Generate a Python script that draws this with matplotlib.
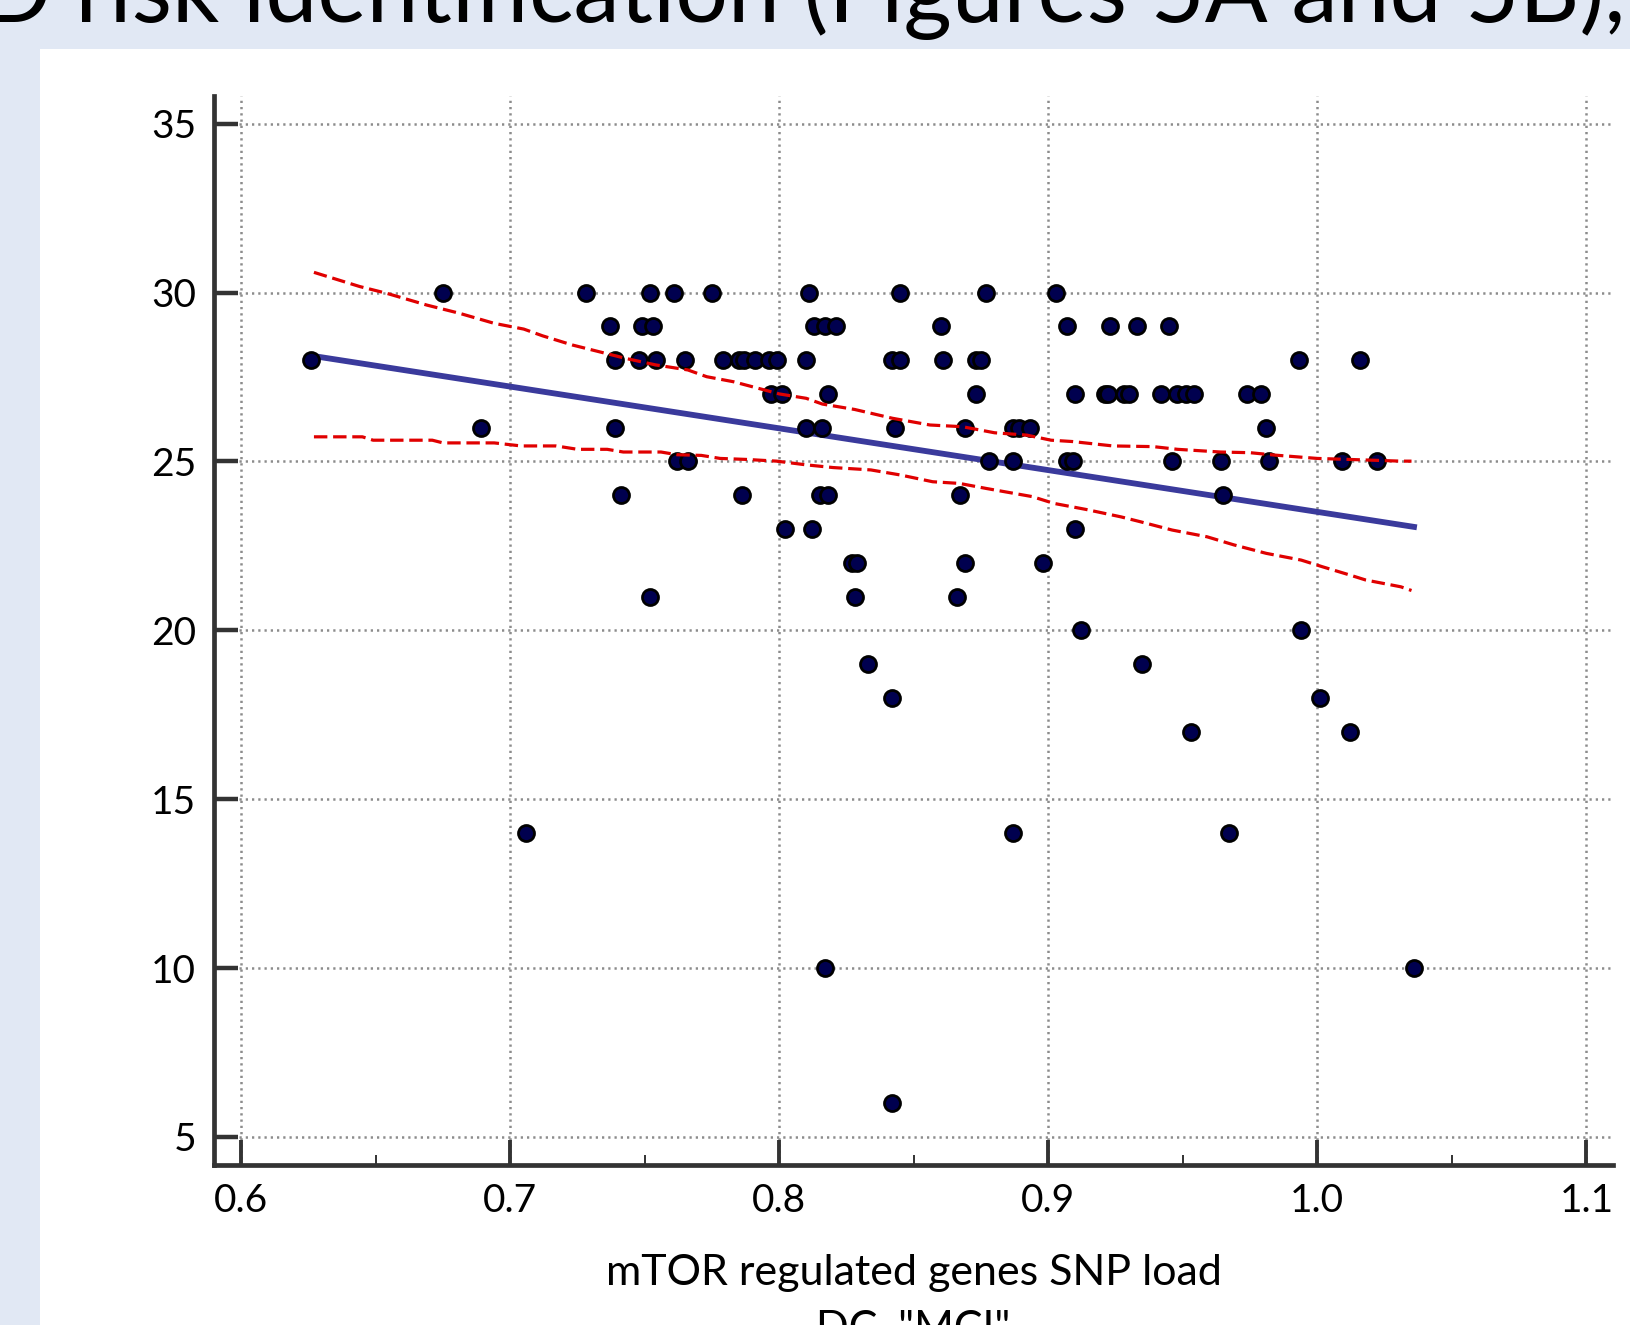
import matplotlib
matplotlib.use('Agg')
import matplotlib.pyplot as plt
from matplotlib.patches import Rectangle
import numpy as np

plt.rcParams['font.family'] = ['Lato', 'DejaVu Sans']

# scatter data, grouped by score row
rows = {
    30: [0.675, 0.728, 0.752, 0.761, 0.775, 0.811, 0.845, 0.877, 0.903],
    29: [0.737, 0.749, 0.753, 0.813, 0.817, 0.821, 0.860, 0.907, 0.923, 0.933, 0.945],
    28: [0.626, 0.739, 0.748, 0.754, 0.765, 0.779, 0.785, 0.787, 0.791, 0.796, 0.799,
         0.810, 0.842, 0.845, 0.861, 0.873, 0.875, 0.993, 1.016],
    27: [0.797, 0.801, 0.818, 0.873, 0.910, 0.921, 0.922, 0.928, 0.930, 0.942, 0.948,
         0.951, 0.954, 0.974, 0.979],
    26: [0.689, 0.739, 0.810, 0.816, 0.843, 0.869, 0.887, 0.889, 0.893, 0.981],
    25: [0.762, 0.766, 0.878, 0.887, 0.907, 0.909, 0.946, 0.964, 0.982, 1.009, 1.022],
    24: [0.741, 0.786, 0.815, 0.818, 0.867, 0.965],
    23: [0.802, 0.812, 0.910],
    22: [0.827, 0.829, 0.869, 0.898],
    21: [0.752, 0.828, 0.866],
    20: [0.912, 0.994],
    19: [0.833, 0.935],
    18: [0.842, 1.001],
    17: [0.953, 1.012],
    14: [0.706, 0.887, 0.967],
    10: [0.817, 1.036],
    6: [0.842],
}
snp_load = [x for s, xs in rows.items() for x in xs]
score = [s for s, xs in rows.items() for x in xs]

# regression line end points
fit_x = [0.627, 1.037]
fit_y = [28.12, 23.05]

# confidence band (upper / lower)
upper_x = [0.627, 0.644, 0.654, 0.669, 0.681, 0.694, 0.705, 0.712, 0.723, 0.733, 0.743,
           0.754, 0.766, 0.773, 0.783, 0.792, 0.800, 0.810, 0.816, 0.828, 0.842, 0.856,
           0.868, 0.880, 0.892, 0.901, 0.909, 0.924, 0.939, 0.948, 0.964, 0.975, 0.984,
           1.000, 1.012, 1.031, 1.035]
upper_y = [30.60, 30.18, 29.98, 29.63, 29.39, 29.09, 28.92, 28.72, 28.45, 28.25, 28.05,
           27.86, 27.71, 27.51, 27.36, 27.17, 27.00, 26.87, 26.70, 26.54, 26.28, 26.08,
           26.03, 25.85, 25.78, 25.63, 25.59, 25.46, 25.44, 25.36, 25.28, 25.26, 25.19,
           25.09, 25.06, 25.01, 25.01]
lower_x = [0.627, 0.645, 0.649, 0.671, 0.675, 0.694, 0.704, 0.717, 0.725, 0.736, 0.742,
           0.756, 0.762, 0.771, 0.778, 0.788, 0.799, 0.810, 0.820, 0.834, 0.845, 0.857,
           0.867, 0.877, 0.894, 0.902, 0.914, 0.927, 0.934, 0.946, 0.959, 0.969, 0.981,
           0.994, 1.002, 1.012, 1.018, 1.031, 1.035]
lower_y = [25.73, 25.73, 25.63, 25.63, 25.55, 25.55, 25.46, 25.46, 25.36, 25.36, 25.28,
           25.28, 25.20, 25.18, 25.09, 25.06, 25.01, 24.90, 24.82, 24.75, 24.60, 24.40,
           24.35, 24.20, 23.96, 23.76, 23.58, 23.36, 23.22, 22.97, 22.77, 22.53, 22.28,
           22.08, 21.88, 21.64, 21.49, 21.29, 21.18]

xticks = [0.6, 0.7, 0.8, 0.9, 1.0, 1.1]
xtick_labels = ['0.6', '0.7', '0.8', '0.9', '1.0', '1.1']
xminor = [0.65, 0.75, 0.85, 0.95, 1.05]
yticks = [5, 10, 15, 20, 25, 30, 35]

W, H = 1631, 1325
fig = plt.figure(figsize=(W / 100, H / 100), dpi=100, facecolor='#e1e8f4')
fig.patches.append(Rectangle((40 / W, 0), 1, 1 - 49 / H, transform=fig.transFigure,
                             facecolor='white', edgecolor='none', zorder=-10))
fig.text(-0.05, 1 - 22 / H, 'AD risk identification (Figures 5A and 5B),',
         fontsize=67, va='baseline', ha='left', color='black')

ax = fig.add_axes([214.3 / W, 160 / H, (1613 - 214.3) / W, (1165 - 95.7) / H])
ax.set_facecolor('none')

ax.plot(fit_x, fit_y, color='#3a3a9c', lw=4.2, solid_capstyle='butt', zorder=2)
ax.plot(snp_load, score, 'o', ms=11.5, mfc='#00004f', mec='black', mew=2.0, zorder=3)
ax.plot(upper_x, upper_y, color='#e00000', lw=2.3, ls=(0, (4.2, 1.8)), zorder=4)
ax.plot(lower_x, lower_y, color='#e00000', lw=2.3, ls=(0, (4.2, 1.8)), zorder=4)

ax.set_xlim(0.58996, 1.1099)
ax.set_ylim(4.17, 35.83)
ax.set_xticks(xticks)
ax.set_xticklabels(xtick_labels)
ax.set_xticks(xminor, minor=True)
ax.set_yticks(yticks)

for side in ['top', 'right']:
    ax.spines[side].set_visible(False)
for side in ['left', 'bottom']:
    ax.spines[side].set_linewidth(3.4)
    ax.spines[side].set_color('#333333')

ax.tick_params(axis='x', which='major', direction='in', length=18, width=2.8,
               color='#333333', labelsize=28, pad=13)
ax.tick_params(axis='x', which='minor', direction='in', length=7, width=1.4,
               color='#333333')
ax.tick_params(axis='y', which='major', direction='in', length=17, width=3.2,
               color='#333333', labelsize=28, pad=13)

ax.grid(True, which='major', color='#8c8c8c', lw=1.8, ls=(0, (0.9, 1.6)))
ax.set_axisbelow(True)

ax.set_xlabel('mTOR regulated genes SNP load\nDC, "MCI"', fontsize=31,
              labelpad=25, linespacing=1.55)

fig.savefig('out.png', dpi=100, facecolor=fig.get_facecolor())
